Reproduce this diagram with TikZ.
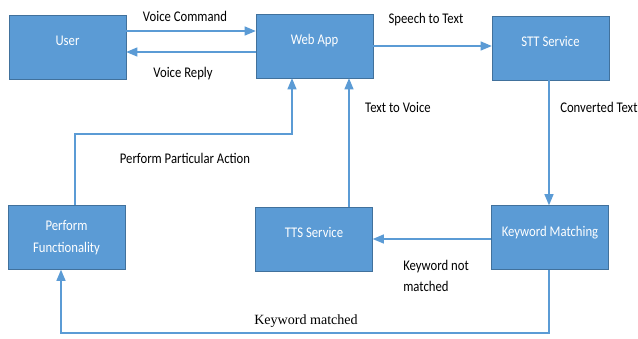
\documentclass[tikz,border=0pt]{standalone}
\usepackage{fontspec}
\setmainfont[FakeStretch=0.86]{Carlito}
\newfontfamily\timesfont{Liberation Serif}
\usetikzlibrary{positioning}
\usetikzlibrary{shapes}
\usetikzlibrary{arrows}

\definecolor{boxblue}{HTML}{5B9BD5}
\definecolor{boxedge}{HTML}{41719C}

\tikzset{
  block/.style = {draw = boxedge, fill = boxblue, text = white, minimum width = 2.925cm,
                  minimum height = 1.6cm, inner sep = 0pt, align = center,
                  text height = 7pt, text depth = 9pt, font = \fontsize{10.5}{16}\selectfont},
  link/.style  = {draw = boxblue, line width = 0.8pt, -triangle 45},
  lbl/.style   = {inner sep = 0pt, font = \fontsize{10.5}{15.5}\selectfont}
}

\begin{document}
\begin{tikzpicture}[x = 0.025cm, y = -0.025cm]
    \useasboundingbox (0,0) rectangle (638,338);
    % boxes
    \node[block] at (67.5,47) (user) {User} ;
    \node[block] at (314.5,46) (webapp) {Web App} ;
    \node[block] at (550.5,48) (stt) {STT Service} ;
    \node[block, text height = {}, text depth = {}] at (66.5,237.5) (perf) {Perform\\Functionality} ;
    \node[block] at (314,239) (tts) {TTS Service} ;
    \node[block] at (550,237.5) (kw) {Keyword Matching} ;
    % connectors
    \draw[link] (user.east |- 0,31) -- (webapp.west |- 0,31) ;
    \draw[link] (webapp.west |- 0,52) -- (user.east |- 0,52) ;
    \draw[link] (webapp.east |- 0,46) -- (stt.west |- 0,46) ;
    \draw[link] (stt.south -| 549,0) -- (kw.north -| 549,0) ;
    \draw[link] (kw.west |- 0,239) -- (tts.east |- 0,239) ;
    \draw[link] (tts.north -| 349,0) -- (webapp.south -| 349,0) ;
    \draw[link] (perf.north -| 75,0) |- (292,134) -- (webapp.south -| 292,0) ;
    \draw[link] (kw.south -| 549,0) |- (61,333) -- (perf.south -| 61,0) ;
    % labels
    \node[lbl] at (185,16) (cmd) {Voice Command} ;
    \node[lbl] at (183,74) (reply) {Voice Reply} ;
    \node[lbl] at (426,20) (s2t) {Speech to Text} ;
    \node[lbl, anchor = west] at (560,107) (conv) {Converted Text} ;
    \node[lbl] at (398,107) (t2v) {Text to Voice} ;
    \node[lbl] at (185,158) (action) {Perform Particular Action} ;
    \node[lbl, align = left, anchor = west] at (403,276) (nomatch) {Keyword not\\matched} ;
    \node[lbl, font = \timesfont\fontsize{10}{12}\selectfont] at (306,321) (match) {Keyword matched} ;
\end{tikzpicture}
\end{document}
